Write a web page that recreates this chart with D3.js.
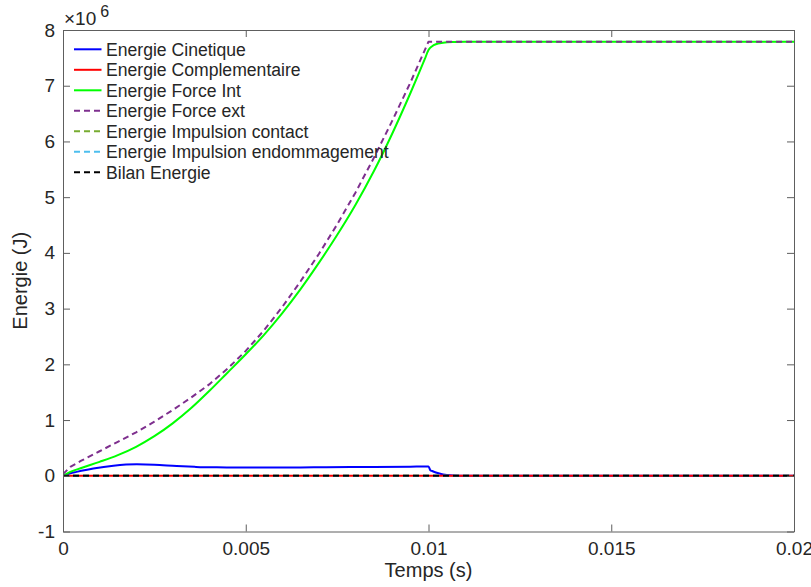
<!DOCTYPE html>
<html>
<head>
<meta charset="utf-8">
<script src="https://cdn.jsdelivr.net/npm/d3@7/dist/d3.min.js"></script>
<style>
  html, body { margin: 0; padding: 0; background: #fff; }
  svg { display: block; }
  text { font-family: "Liberation Sans", Helvetica, Arial, sans-serif; fill: #262626; }
</style>
</head>
<body>
<svg id="chart" width="811" height="587"></svg>
<script>
// ---- Data (values in units of 1e6 J) ----
const xTicks = [0, 0.005, 0.01, 0.015, 0.02];
const xTickLabels = ["0", "0.005", "0.01", "0.015", "0.02"];
const yTicks = [-1, 0, 1, 2, 3, 4, 5, 6, 7, 8];
const yTickLabels = ["-1", "0", "1", "2", "3", "4", "5", "6", "7", "8"];

const seriesNames = [
  "Energie Cinetique",
  "Energie Complementaire",
  "Energie Force Int",
  "Energie Force ext",
  "Energie Impulsion contact",
  "Energie Impulsion endommagement",
  "Bilan Energie"
];

const tCinetique = [0, 0.0002, 0.00037, 0.00083, 0.00138, 0.00202, 0.0025, 0.00311, 0.0036, 0.00402, 0.00448, 0.0055, 0.0065, 0.0072, 0.0085, 0.0095, 0.00995, 0.01, 0.01005, 0.0101, 0.0102, 0.0103, 0.0104, 0.0105, 0.0107, 0.011, 0.02];
const cinetique  = [0, 0.045, 0.07, 0.13, 0.18, 0.205, 0.198, 0.174, 0.16, 0.152, 0.15, 0.147, 0.15, 0.153, 0.158, 0.163, 0.168, 0.168, 0.1, 0.085, 0.06, 0.04, 0.025, 0.014, 0.004, 0, 0];

const tComplementaire = [0, 0.02];
const complementaire  = [0, 0];

const tForceInt = [0, 0.0002, 0.0005, 0.001, 0.0015, 0.002, 0.0025, 0.003, 0.0035, 0.004, 0.0045, 0.005, 0.0055, 0.006, 0.0065, 0.007, 0.0075, 0.008, 0.0085, 0.009, 0.0095, 0.0099, 0.01, 0.0101, 0.0102, 0.0104, 0.0107, 0.011, 0.02];
const forceInt  = [0, 0.07, 0.14, 0.25, 0.37, 0.52, 0.71, 0.94, 1.21, 1.52, 1.85, 2.18, 2.53, 2.92, 3.35, 3.82, 4.32, 4.86, 5.46, 6.13, 6.86, 7.48, 7.64, 7.71, 7.745, 7.77, 7.785, 7.79, 7.79];

const tForceExt = [0, 0.0002, 0.0005, 0.001, 0.0015, 0.002, 0.0025, 0.003, 0.0035, 0.004, 0.0045, 0.005, 0.0055, 0.006, 0.0065, 0.007, 0.0075, 0.008, 0.0085, 0.009, 0.0095, 0.01, 0.02];
const forceExt  = [0.03, 0.16, 0.27, 0.44, 0.61, 0.78, 0.97, 1.18, 1.40, 1.64, 1.92, 2.24, 2.61, 3.03, 3.49, 3.98, 4.51, 5.08, 5.70, 6.36, 7.05, 7.79, 7.79];

const tImpulsionContact = [0, 0.02];
const impulsionContact  = [0, 0];

const tImpulsionEndo = [0, 0.02];
const impulsionEndo  = [0, 0];

const tBilan = [0, 0.02];
const bilan  = [0, 0];

// ---- Layout ----
const svg = d3.select("#chart");
const L = 63, R = 794, T = 30, B = 531.5;
const x = d3.scaleLinear().domain([0, 0.02]).range([L, R]);
const y = d3.scaleLinear().domain([-1, 8]).range([B, T]);

const axisColor = "#5e5e5e";
const tickLen = 7;

svg.append("defs").append("clipPath").attr("id", "clip")
  .append("rect").attr("x", L).attr("y", T).attr("width", R - L).attr("height", B - T);

// ---- Series ----
const series = [
  { name: seriesNames[0], t: tCinetique, v: cinetique, color: "#0000ff", dash: null, curve: d3.curveMonotoneX },
  { name: seriesNames[1], t: tComplementaire, v: complementaire, color: "#ff0000", dash: null, curve: d3.curveLinear },
  { name: seriesNames[2], t: tForceInt, v: forceInt, color: "#00ff00", dash: null, curve: d3.curveMonotoneX },
  { name: seriesNames[3], t: tForceExt, v: forceExt, color: "#7e2f8e", dash: "6,4", curve: d3.curveLinear },
  { name: seriesNames[4], t: tImpulsionContact, v: impulsionContact, color: "#77ac30", dash: "6,4", curve: d3.curveLinear },
  { name: seriesNames[5], t: tImpulsionEndo, v: impulsionEndo, color: "#4dbeee", dash: "6,4", curve: d3.curveLinear },
  { name: seriesNames[6], t: tBilan, v: bilan, color: "#000000", dash: "6,4", curve: d3.curveLinear }
];

const g = svg.append("g").attr("clip-path", "url(#clip)");
series.forEach(s => {
  const pts = s.t.map((t, i) => [t, s.v[i]]);
  const line = d3.line().curve(s.curve).x(d => x(d[0])).y(d => y(d[1]));
  g.append("path").datum(pts)
    .attr("d", line)
    .attr("fill", "none")
    .attr("stroke", s.color)
    .attr("stroke-width", 2)
    .attr("stroke-dasharray", s.dash)
    .attr("stroke-linejoin", "round");
});

// ---- Axes ----
function styleAxis(sel) {
  sel.selectAll(".domain").attr("stroke", axisColor).attr("stroke-width", 1);
  sel.selectAll(".tick line").attr("stroke", axisColor).attr("stroke-width", 1);
  sel.selectAll(".tick text").attr("fill", "#262626").style("font-size", "19px")
    .style("font-family", '"Liberation Sans", Helvetica, Arial, sans-serif');
}

const gx = svg.append("g").attr("transform", `translate(0,${B})`)
  .call(d3.axisBottom(x).tickValues(xTicks).tickFormat((d, i) => xTickLabels[i])
    .tickSizeInner(-tickLen).tickSizeOuter(0).tickPadding(10));
styleAxis(gx);

const gxTop = svg.append("g").attr("transform", `translate(0,${T})`)
  .call(d3.axisTop(x).tickValues(xTicks).tickFormat("")
    .tickSizeInner(-tickLen).tickSizeOuter(0));
styleAxis(gxTop);

const gy = svg.append("g").attr("transform", `translate(${L},0)`)
  .call(d3.axisLeft(y).tickValues(yTicks).tickFormat((d, i) => yTickLabels[i])
    .tickSizeInner(-tickLen).tickSizeOuter(0).tickPadding(8));
styleAxis(gy);

const gyRight = svg.append("g").attr("transform", `translate(${R},0)`)
  .call(d3.axisRight(y).tickValues(yTicks).tickFormat("")
    .tickSizeInner(-tickLen).tickSizeOuter(0));
styleAxis(gyRight);

// ---- Exponent label ----
const expo = svg.append("text").attr("x", 64).attr("y", 25).style("font-size", "19px");
expo.append("tspan").text("×10");
expo.append("tspan").attr("dx", 4).attr("dy", -8).style("font-size", "16px").text("6");

// ---- Axis titles ----
svg.append("text").attr("x", (L + R) / 2).attr("y", 577).attr("text-anchor", "middle")
  .style("font-size", "20px").text("Temps (s)");
svg.append("text").attr("transform", `translate(27,${(T + B) / 2}) rotate(-90)`)
  .attr("text-anchor", "middle").style("font-size", "20px").text("Energie (J)");

// ---- Legend ----
const legend = svg.append("g");
const legY0 = 49.3, legDy = 20.5;
series.forEach((s, i) => {
  const yy = legY0 + i * legDy;
  legend.append("line").attr("x1", 74).attr("x2", 101.5).attr("y1", yy).attr("y2", yy)
    .attr("stroke", s.color).attr("stroke-width", 2).attr("stroke-dasharray", s.dash);
  legend.append("text").attr("x", 106).attr("y", yy).attr("dy", "0.36em")
    .style("font-size", "17.6px").text(s.name);
});
</script>
</body>
</html>
